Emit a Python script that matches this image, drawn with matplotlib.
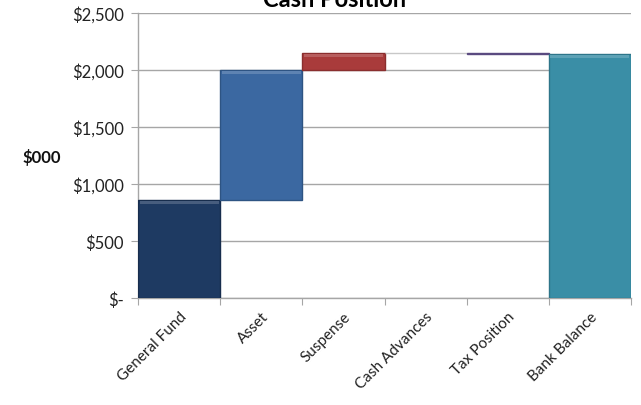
import matplotlib
matplotlib.use("Agg")
import matplotlib.pyplot as plt
from matplotlib.ticker import FuncFormatter, MultipleLocator
from matplotlib.colors import to_rgb

categories = ["General Fund", "Asset", "Suspense", "Cash Advances", "Tax Position", "Bank Balance"]
changes = [860, 1140, 150, -5, -5]
bank_balance = 2140
colors = ["#1e3a62", "#3b68a1", "#a93b3b", "#ffffff", "#6a5a8e", "#3a8ea6"]
edge_colors = ["#172d4d", "#2e5483", "#8a2e2e", "#c8c8c8", "#5a4a80", "#2e7589"]

# running totals for the floating waterfall segments
bottoms, heights = [], []
total = 0
for c in changes:
    lo, hi = sorted((total, total + c))
    bottoms.append(lo)
    heights.append(hi - lo)
    total += c
bottoms.append(0)
heights.append(bank_balance)


def lighten(color, amount):
    r, g, b = to_rgb(color)
    return (r + (1 - r) * amount, g + (1 - g) * amount, b + (1 - b) * amount)


plt.rcParams["font.family"] = ["Lato", "DejaVu Sans"]
fig = plt.figure(figsize=(6.41, 4.06), dpi=100)
ax = fig.add_axes([0.2153, 0.2635, 0.7691, 0.702])

x = list(range(len(categories)))
for i in x:
    ax.bar(i, heights[i], bottom=bottoms[i], width=1.0, color=colors[i],
           edgecolor=edge_colors[i], linewidth=1.0, zorder=3)
    # soft bevel highlight along the top edge of the larger bars
    if heights[i] > 100:
        ax.bar(i, 25, bottom=bottoms[i] + heights[i] - 35, width=0.96,
               color=lighten(colors[i], 0.18), linewidth=0, zorder=4)

ax.set_xlim(-0.5, len(categories) - 0.5)
ax.set_ylim(0, 2500)
ax.yaxis.set_major_locator(MultipleLocator(500))
ax.yaxis.set_major_formatter(FuncFormatter(lambda v, p: "$-" if v == 0 else f"${v:,.0f}"))
ax.grid(axis="y", color="#a6a6a6", linewidth=1.0, zorder=0)

ax.set_xticks([i - 0.5 for i in range(len(categories) + 1)])
ax.set_xticklabels([])
ax.set_xticks(x, minor=True)
ax.set_xticklabels(categories, minor=True, rotation=45, ha="right",
                   rotation_mode="anchor", fontsize=11, color="#222222")
ax.tick_params(axis="x", which="minor", length=0, pad=8)
ax.tick_params(axis="x", which="major", length=5, color="#a6a6a6", direction="out")
ax.tick_params(axis="y", length=5, color="#a6a6a6", labelsize=12, pad=5, labelcolor="#222222")

for s in ("top", "right"):
    ax.spines[s].set_visible(False)
for s in ("left", "bottom"):
    ax.spines[s].set_color("#a6a6a6")
    ax.spines[s].set_linewidth(1.0)

fig.text(42 / 641, 1 - 158 / 406, "$000", fontsize=12, fontweight="bold",
         ha="center", va="center", color="#111111")
fig.text(335 / 641, 1 - 7 / 406, "Cash Position", fontsize=17, fontweight="bold",
         ha="center", va="baseline", color="#000000")

fig.savefig("out.png", dpi=100)
